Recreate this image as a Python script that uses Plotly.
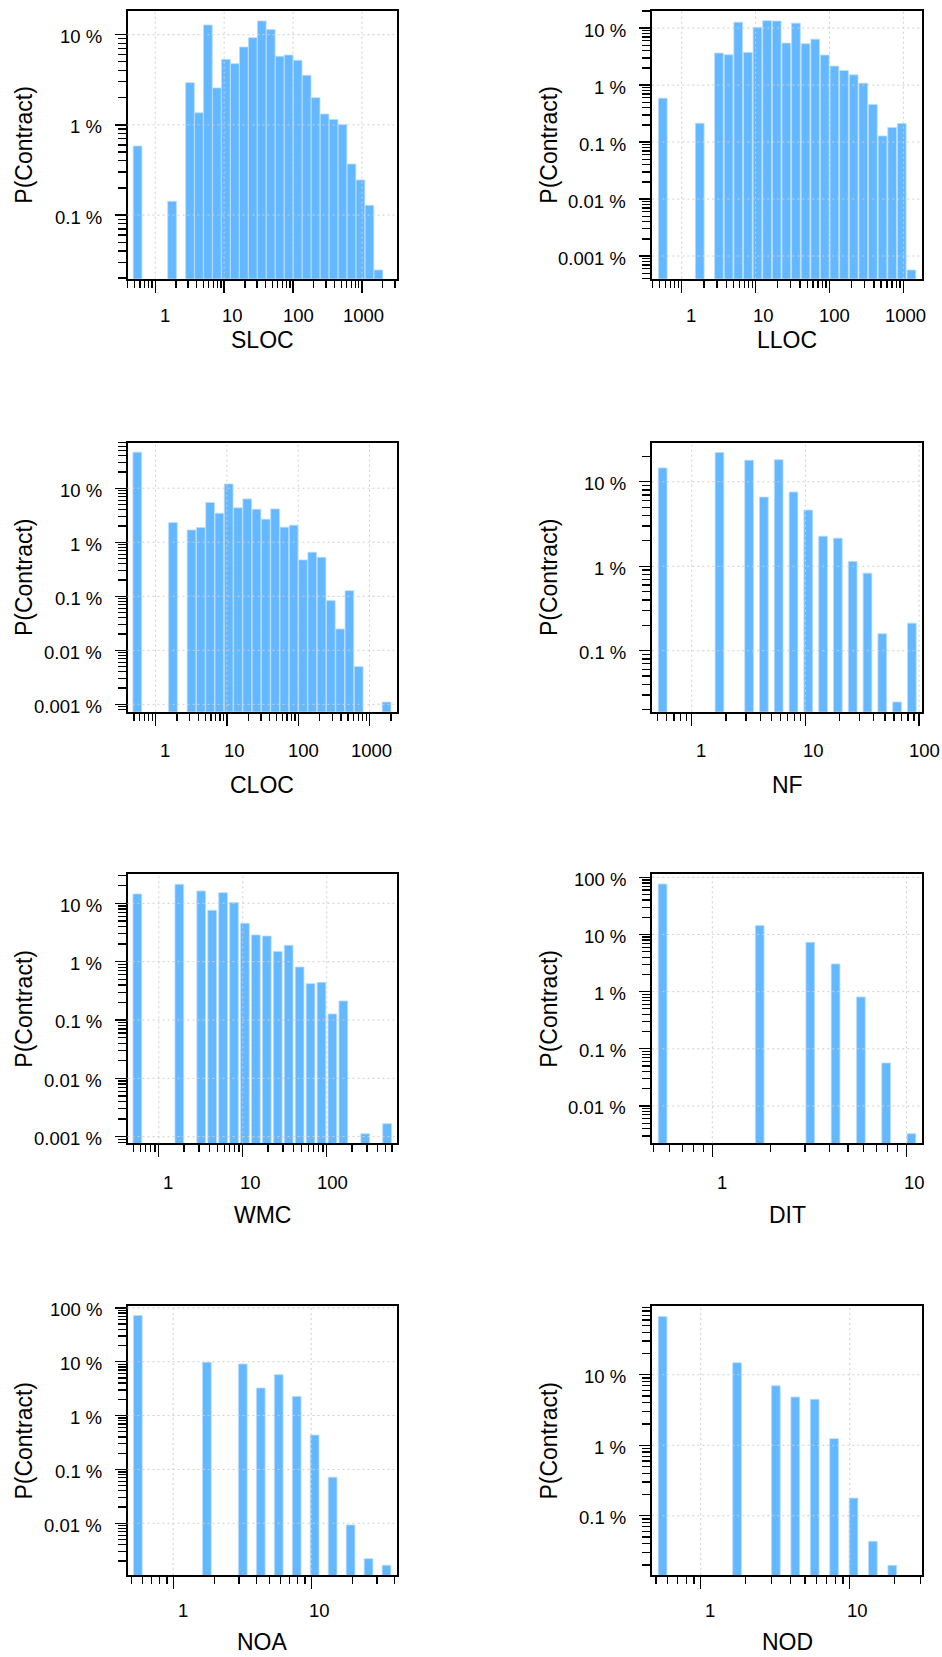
import math
import plotly.graph_objects as go

W, H = 942, 1657
FONT = "Liberation Sans, Arial, Helvetica, sans-serif"
BAR_COLOR = "#63B8FF"
BAR_EDGE = "#b8dcff"
GRID_COLOR = "#cfcfcf"

# ---------------- data (percent of contracts per log-spaced bin) ----------------
# histogram bins: first non-zero bin centred at 10**BIN_CENTER0, regular log10 step;
# the metric value 0 is drawn as a separate bar centred at 10**ZERO_CENTER
BIN_CENTER0 = 0.244
BIN_STEP = 0.1302
ZERO_CENTER = -0.256

metrics = ["SLOC", "LLOC", "CLOC", "NF", "WMC", "DIT", "NOA", "NOD"]

sloc_zero = 0.583
sloc_p = [0.142, None, 2.94, 1.36, 12.8, 2.57, 5.33, 4.77, 7.3, 9.26, 14.2, 11.4,
          5.75, 5.94, 5.19, 3.54, 2.0, 1.32, 1.15, 1.01, 0.368, 0.245, 0.128, 0.0246]

lloc_zero = 0.589
lloc_p = [0.214, None, 3.64, 3.40, 12.7, 3.73, 10.3, 13.5, 13.3, 5.45, 12.2, 5.3,
          6.4, 3.36, 2.15, 1.80, 1.51, 1.08, 0.456, 0.128, 0.18, 0.211, 0.000568]

cloc_zero = 46.4
cloc_p = [2.31, None, 1.69, 1.87, 5.43, 3.44, 12.0, 4.33, 6.34, 4.08, 2.67, 4.14,
          1.90, 2.07, 0.471, 0.653, 0.527, 0.0832, 0.0248, 0.127, 0.00499, None, None, 0.0011]

nf_zero = 14.6
nf_p = [22.2, None, 18.0, 6.59, 18.2, 7.55, 4.62, 2.27, 2.15, 1.14, 0.829, 0.159, 0.0247, 0.212]

wmc_zero = 14.5
wmc_p = [21.2, None, 16.3, 7.59, 15.2, 10.3, 4.54, 2.87, 2.75, 1.50, 1.91, 0.81, 0.42,
         0.442, 0.127, 0.212, None, 0.00112, None, 0.00167]

dit_zero = 76.4
dit_p = [14.3, None, 7.29, 3.05, 0.807, 0.0565, 0.00328]

noa_zero = 72.0
noa_p = [9.76, None, 9.08, 3.25, 5.75, 2.27, 0.434, 0.0718, 0.0093, 0.0022, 0.00166]

nod_zero = 66.8
nod_p = [14.8, None, 6.98, 4.83, 4.48, 1.24, 0.178, 0.0434, 0.0198]

zeros = [sloc_zero, lloc_zero, cloc_zero, nf_zero, wmc_zero, dit_zero, noa_zero, nod_zero]
series = [sloc_p, lloc_p, cloc_p, nf_p, wmc_p, dit_p, noa_p, nod_p]

# tick labels
X_TICK_VALS = [0.1, 1, 10, 100, 1000, 10000]
X_TICK_TEXT = ["0.1", "1", "10", "100", "1000", "10000"]
Y_TICK_VALS = [100, 10, 1, 0.1, 0.01, 0.001, 0.0001]
Y_TICK_TEXT = ["100 %", "10 %", "1 %", "0.1 %", "0.01 %", "0.001 %", "0.0001 %"]
X_MINOR = [m * 10.0 ** e for e in range(-1, 4) for m in range(2, 10)]
Y_MINOR = [m * 10.0 ** e for e in range(-5, 2) for m in range(2, 10)]

# ---------------- layout (pixels) ----------------
COLS = [(127.5, 397.0), (652.3, 921.7)]
ROWS = [(10.7, 278.7), (442.5, 711.7), (874.0, 1143.3), (1306.2, 1575.0)]
XLAB_Y = [315, 750, 1182.5, 1610]
XTITLE_Y = [340, 785, 1215, 1642]
YTITLE_X = [24, 549]
YLAB_GAP = 24  # right edge of y tick labels, left of the box

# log10 axis ranges per panel
x_ranges = [(-0.402, 3.508), (-0.398, 3.248), (-0.393, 3.385), (-0.347, 2.023),
            (-0.373, 2.836), (-0.309, 1.078), (-0.331, 1.622), (-0.325, 1.483)]
y_ranges = [(-1.706, 1.266), (-3.398, 1.305), (-3.136, 1.846), (-1.722, 1.465),
            (-3.114, 1.503), (-2.653, 2.058), (-2.961, 2.031), (-1.840, 1.972)]

BAR_PX = 8.7
LABEL_SHIFT = {1: 9.5, 2: 8, 3: 5.5, 4: 2}
TICK_FONT = dict(size=18.5, family=FONT, color="black")

fig = go.Figure()
layout = dict(width=W, height=H, margin=dict(l=0, r=0, t=0, b=0),
              paper_bgcolor="white", plot_bgcolor="white", showlegend=False,
              font=dict(family=FONT, color="black"), annotations=[], shapes=[])

for i, name in enumerate(metrics):
    n = i + 1
    sfx = "" if n == 1 else str(n)
    col, row = i % 2, i // 2
    l, r = COLS[col]
    t, b = ROWS[row]
    xr, yr = x_ranges[i], y_ranges[i]
    wlog = BAR_PX * (xr[1] - xr[0]) / (r - l)

    centers_log = [ZERO_CENTER]
    vals = [zeros[i]]
    for k, v in enumerate(series[i]):
        if v is not None:
            centers_log.append(BIN_CENTER0 + BIN_STEP * k)
            vals.append(v)
    xs = [10 ** c for c in centers_log]
    lefts = [10 ** (c - wlog / 2) for c in centers_log]
    rights = [10 ** (c + wlog / 2) for c in centers_log]
    offs = [lo - x for lo, x in zip(lefts, xs)]
    widths = [ri - lo for lo, ri in zip(lefts, rights)]

    fig.add_trace(go.Bar(x=xs, y=vals, offset=offs, width=widths,
                         xaxis="x" + sfx, yaxis="y" + sfx,
                         marker=dict(color=BAR_COLOR, line=dict(color=BAR_EDGE, width=0.8)),
                         name=name, hoverinfo="x+y"))

    layout["xaxis" + sfx] = dict(
        domain=[l / W, r / W], anchor="y" + sfx, type="log", range=list(xr),
        tickmode="array", tickvals=X_TICK_VALS, ticktext=X_TICK_TEXT, showticklabels=False,
        ticks="outside", ticklen=12, tickwidth=1.3, tickcolor="black",
        minor=dict(tickmode="array", tickvals=X_MINOR, ticks="outside", ticklen=7,
                   tickwidth=1.3, tickcolor="black", showgrid=False),
        showline=True, mirror=True, linecolor="black", linewidth=2,
        showgrid=False, zeroline=False, fixedrange=True)
    layout["yaxis" + sfx] = dict(
        domain=[1 - b / H, 1 - t / H], anchor="x" + sfx, type="log", range=list(yr),
        tickmode="array", tickvals=Y_TICK_VALS, ticktext=Y_TICK_TEXT, showticklabels=False,
        ticks="outside", ticklen=11, tickwidth=1.3, tickcolor="black",
        minor=dict(tickmode="array", tickvals=Y_MINOR, ticks="outside", ticklen=8,
                   tickwidth=1.3, tickcolor="black", showgrid=False),
        showline=True, mirror=True, linecolor="black", linewidth=2,
        showgrid=False, zeroline=False, fixedrange=True)

    # dotted grid drawn above the bars
    for v in X_TICK_VALS:
        f = (math.log10(v) - xr[0]) / (xr[1] - xr[0])
        if 0 < f < 1:
            layout["shapes"].append(dict(type="line", xref="x" + sfx + " domain",
                                         yref="y" + sfx + " domain", x0=f, x1=f, y0=0, y1=1,
                                         layer="above",
                                         line=dict(color=GRID_COLOR, width=1, dash="2px,3px")))
    for v in Y_TICK_VALS:
        f = (math.log10(v) - yr[0]) / (yr[1] - yr[0])
        if 0 < f < 1:
            layout["shapes"].append(dict(type="line", xref="x" + sfx + " domain",
                                         yref="y" + sfx + " domain", x0=0, x1=1, y0=f, y1=f,
                                         layer="above",
                                         line=dict(color=GRID_COLOR, width=1, dash="2px,3px")))

    # x tick labels
    for v, txt in zip(X_TICK_VALS, X_TICK_TEXT):
        f = (math.log10(v) - xr[0]) / (xr[1] - xr[0])
        if 0 <= f <= 1.01:
            layout["annotations"].append(dict(
                text=txt, xref="x" + sfx + " domain", x=f, yref="paper",
                y=1 - XLAB_Y[row] / H, xanchor="center", yanchor="middle",
                xshift=LABEL_SHIFT.get(len(txt), 0), showarrow=False, font=TICK_FONT))
    # y tick labels
    for v, txt in zip(Y_TICK_VALS, Y_TICK_TEXT):
        f = (math.log10(v) - yr[0]) / (yr[1] - yr[0])
        if 0 < f < 1:
            layout["annotations"].append(dict(
                text=txt, xref="paper", x=(l - YLAB_GAP) / W, yref="y" + sfx + " domain",
                y=f, xanchor="right", yanchor="middle", yshift=-2, showarrow=False,
                font=TICK_FONT))
    # axis titles
    layout["annotations"].append(dict(
        text=name, xref="paper", x=(l + r) / 2 / W, yref="paper", y=1 - XTITLE_Y[row] / H,
        xanchor="center", yanchor="middle", showarrow=False,
        font=dict(size=23, family=FONT, color="black")))
    layout["annotations"].append(dict(
        text="P(Contract)", xref="paper", x=YTITLE_X[col] / W, yref="paper",
        y=1 - (t + b) / 2 / H, xanchor="center", yanchor="middle", textangle=-90,
        showarrow=False, font=dict(size=23, family=FONT, color="black")))

fig.update_layout(**layout)
fig.write_html("out.html",
               config={"displayModeBar": False, "staticPlot": True},
               post_script="document.body.style.margin='0px';"
                           "document.body.style.padding='0px';"
                           "document.body.style.overflow='hidden';")
